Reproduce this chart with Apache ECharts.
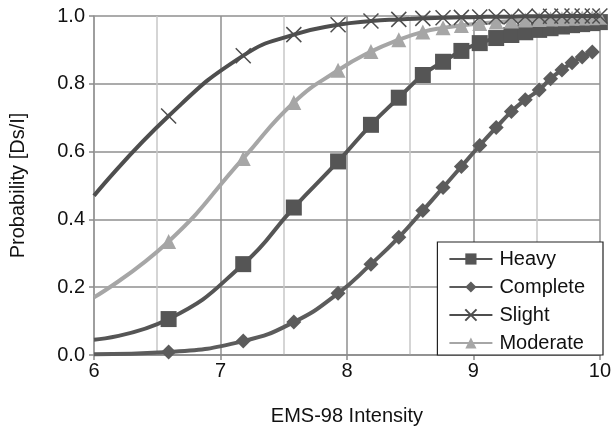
<!DOCTYPE html>
<html>
<head>
<meta charset="utf-8">
<script src="https://cdn.jsdelivr.net/npm/echarts@6/dist/echarts.min.js"></script>
<style>
html,body{margin:0;padding:0;background:#fff;}
#chart{width:614px;height:431px;}
</style>
</head>
<body>
<div id="chart"></div>
<script>
// EMS-98 intensity values where the markers sit (first point = curve start, no marker)
var intensity = [6.0, 6.59, 7.18, 7.58, 7.93, 8.19, 8.41, 8.60, 8.76, 8.905, 9.05, 9.18, 9.30, 9.41, 9.52, 9.61, 9.70, 9.78, 9.86, 9.94, 10.0];
var heavy    = [0.045, 0.106, 0.268, 0.435, 0.571, 0.679, 0.759, 0.826, 0.865, 0.897, 0.920, 0.935, 0.944, 0.952, 0.959, 0.964, 0.969, 0.973, 0.976, 0.979, 0.982];
var complete = [0.002, 0.009, 0.041, 0.097, 0.182, 0.268, 0.347, 0.426, 0.494, 0.556, 0.618, 0.671, 0.718, 0.753, 0.782, 0.815, 0.841, 0.862, 0.879, 0.894];
var slight   = [0.470, 0.705, 0.883, 0.945, 0.974, 0.985, 0.990, 0.993, 0.995, 0.996, 0.997, 0.998, 0.998, 0.999, 0.999, 0.999, 1.0, 1.0, 1.0, 1.0, 1.0];
var moderate = [0.170, 0.335, 0.580, 0.745, 0.840, 0.895, 0.930, 0.953, 0.965, 0.972, 0.978, 0.982, 0.985, 0.988, 0.990, 0.991, 0.992, 0.993, 0.994, 0.995, 0.996];
var seriesNames = ['Heavy', 'Complete', 'Slight', 'Moderate'];
var yTicks = ['0.0', '0.2', '0.4', '0.6', '0.8', '1.0'];

function pts(vals) {
  return vals.map(function (v, i) {
    var d = { value: [intensity[i], v] };
    if (i === 0) d.symbol = 'none';
    return d;
  });
}

var FONT = "'Liberation Sans', Arial, Helvetica, sans-serif";
var TXT = '#111';
var chart = echarts.init(document.getElementById('chart'), null, { renderer: 'canvas' });

function mk(name, vals, color, symbol, size, extraItem, z) {
  return {
    name: name,
    type: 'line',
    data: pts(vals),
    smooth: 0.5,
    symbol: symbol,
    symbolSize: size,
    showAllSymbol: true,
    z: z,
    lineStyle: { color: color, width: 4 },
    itemStyle: Object.assign({ color: color }, extraItem || {}),
    emphasis: { disabled: true },
    clip: false
  };
}

chart.setOption({
  animation: false,
  backgroundColor: '#fff',
  textStyle: { fontFamily: FONT },
  grid: { left: 92, right: 11, top: 16, bottom: 75 },
  xAxis: {
    type: 'value', min: 6, max: 10, interval: 1,
    name: 'EMS-98 Intensity', nameLocation: 'middle', nameGap: 51,
    nameTextStyle: { fontSize: 20, color: TXT, fontFamily: FONT },
    axisLine: { show: true, lineStyle: { color: '#8a8a8a', width: 1.5 } },
    axisTick: { show: true, length: 5, lineStyle: { color: '#8a8a8a', width: 1.5 } },
    axisLabel: { fontSize: 20, color: TXT, margin: 6, fontFamily: FONT, hideOverlap: false, showMaxLabel: true, showMinLabel: true },
    splitLine: { show: true, lineStyle: { color: '#8f8f8f', width: 1.5 } },
    minorTick: { show: false, splitNumber: 2 },
    minorSplitLine: { show: true, lineStyle: { color: '#c8c8c8', width: 1.5 } }
  },
  yAxis: {
    type: 'value', min: 0, max: 1, interval: 0.2,
    name: 'Probability [Ds/I]', nameLocation: 'middle', nameGap: 66, nameRotate: 90,
    nameTextStyle: { fontSize: 20, color: TXT, fontFamily: FONT },
    axisLine: { show: true, lineStyle: { color: '#9a9a9a', width: 1.5 } },
    axisTick: { show: true, length: 5, lineStyle: { color: '#8a8a8a', width: 1.5 } },
    axisLabel: {
      fontSize: 20, color: TXT, margin: 9, fontFamily: FONT,
      formatter: function (v) { return yTicks[Math.round(v * 5)]; }
    },
    splitLine: { show: true, lineStyle: { color: '#8f8f8f', width: 1.5 } }
  },
  legend: {
    data: seriesNames,
    orient: 'vertical',
    right: 11, top: 242,
    padding: [7, 18, 2, 11],
    itemGap: 8,
    itemWidth: 43, itemHeight: 14,
    backgroundColor: '#fff',
    borderColor: '#222', borderWidth: 1.2,
    textStyle: { fontSize: 20, color: TXT, fontFamily: FONT, padding: [0, 0, 0, 2] },
    selectedMode: false
  },
  series: [
    mk('Heavy', heavy, '#555555', 'rect', 16, null, 3),
    mk('Complete', complete, '#5c5c5c', 'diamond', 15, null, 2),
    mk('Slight', slight, '#4e4e4e', 'path://M0,0L10,10M10,0L0,10', 15, { color: '#4e4e4e', borderColor: '#4e4e4e', borderWidth: 1.5 }, 5),
    mk('Moderate', moderate, '#a6a6a6', 'triangle', 15, null, 4)
  ]
});
</script>
</body>
</html>
